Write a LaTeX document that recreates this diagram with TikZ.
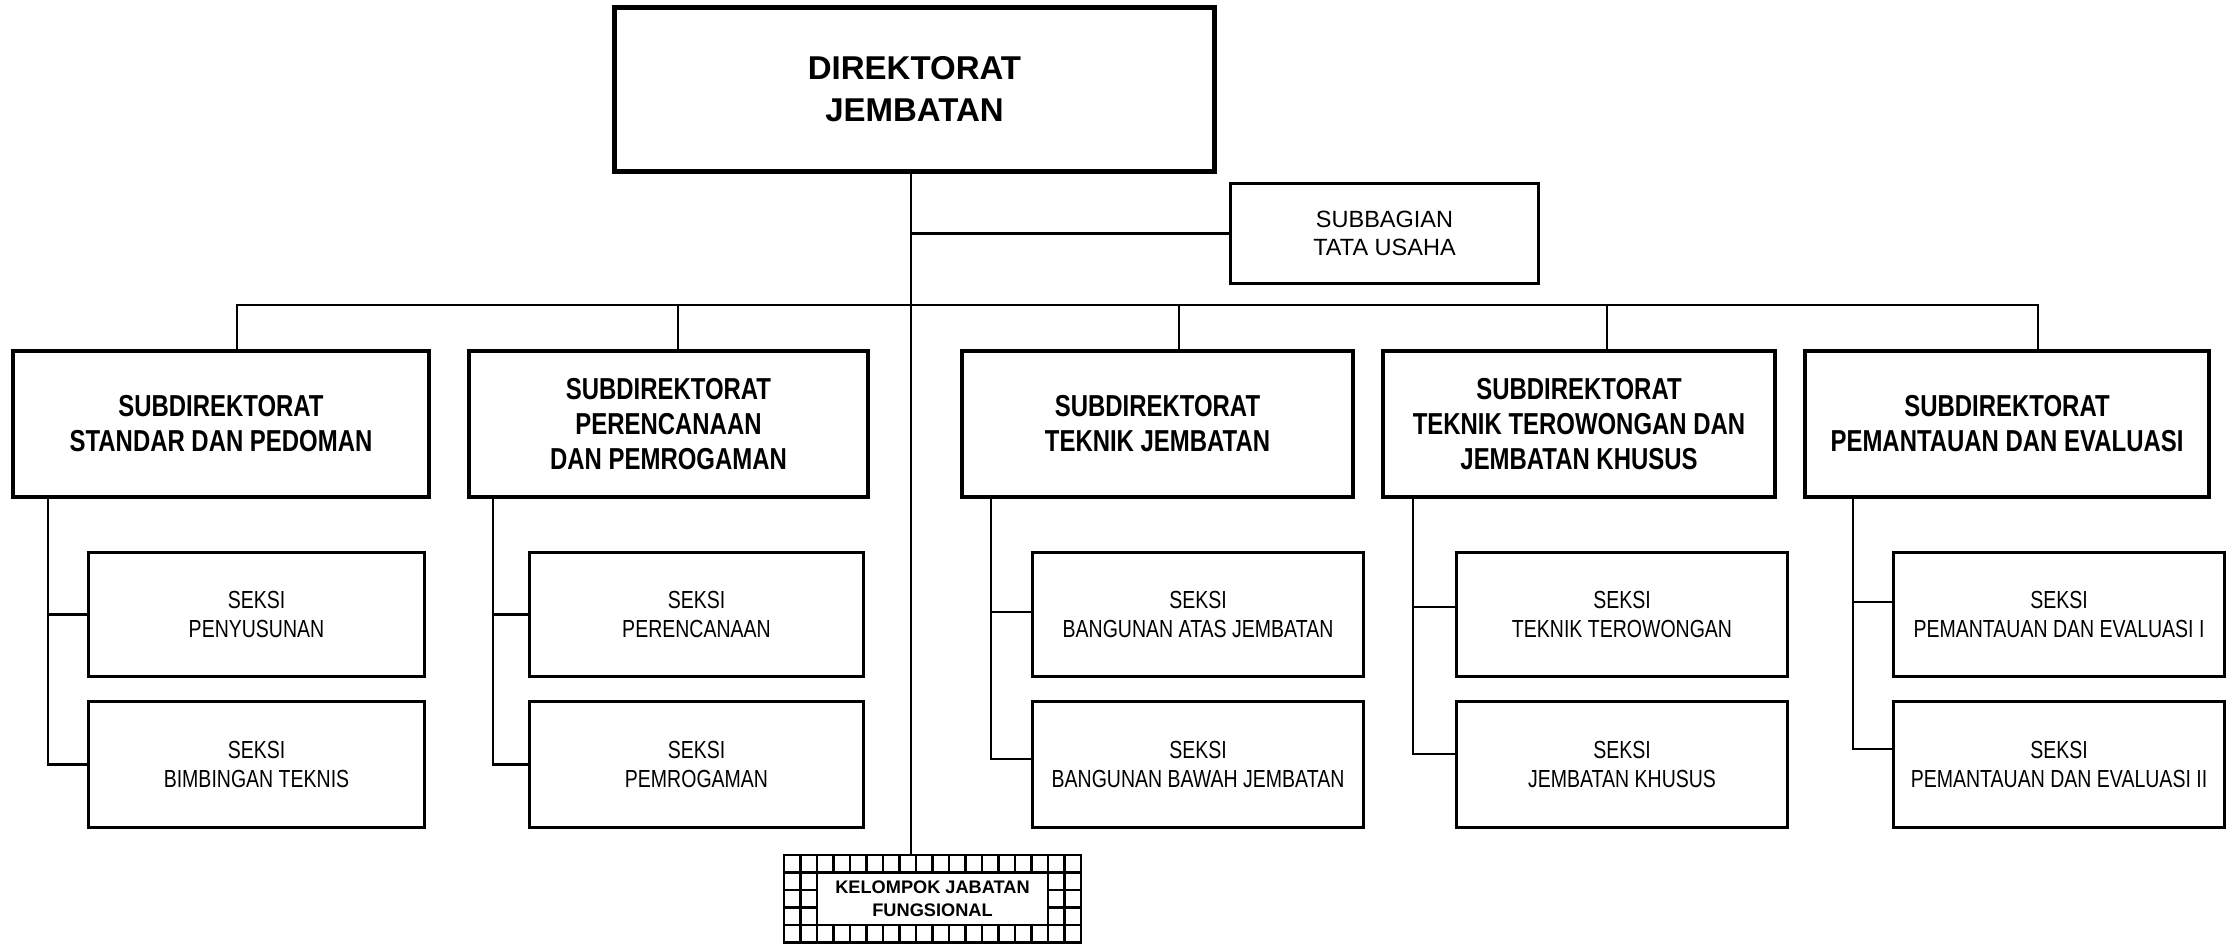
\documentclass[tikz,border=0pt]{standalone}
\usepackage{fontspec}
\setmainfont{Liberation Sans}
\newfontfamily\narrowfont[FakeStretch=0.79]{Liberation Sans}
\begin{document}
\begin{tikzpicture}[x=0.5pt,y=-0.5pt,
  box/.style={draw, inner sep=0pt, align=center},
  headbox/.style={box, line width=2.5pt, font=\bfseries\fontsize{16.5pt}{21pt}\selectfont},
  staffbox/.style={box, line width=1.5pt, font=\fontsize{11.75pt}{14pt}\selectfont},
  subdirbox/.style={box, line width=2.15pt, minimum height=73pt,
    font=\narrowfont\bfseries\fontsize{15.15pt}{17.5pt}\selectfont},
  seksibox/.style={box, line width=1.35pt,
    font=\narrowfont\fontsize{12.35pt}{14.5pt}\selectfont},
  upper/.style={seksibox, minimum height=62.15pt},
  lower/.style={seksibox, minimum height=63.15pt},
  cell/.style={line width=1.35pt},
  link/.style={line width=1.25pt}]

\useasboundingbox (0,0) rectangle (2230,944);

% top level
\node[headbox, minimum width=300pt, minimum height=82pt] (dir) at (914.5,89.5) {DIREKTORAT\\JEMBATAN};
\node[staffbox, minimum width=154pt, minimum height=50pt] (tu) at (1384.5,233.5) {SUBBAGIAN\\TATA USAHA};

% subdirectorates
\node[subdirbox, minimum width=208pt]   (sd1) at (221,424)    {SUBDIREKTORAT\\STANDAR DAN PEDOMAN};
\node[subdirbox, minimum width=199.5pt] (sd2) at (668.5,424)  {SUBDIREKTORAT\\PERENCANAAN\\DAN PEMROGAMAN};
\node[subdirbox, minimum width=195.5pt] (sd3) at (1157.5,424) {SUBDIREKTORAT\\TEKNIK JEMBATAN};
\node[subdirbox, minimum width=196pt]   (sd4) at (1579,424)   {SUBDIREKTORAT\\TEKNIK TEROWONGAN DAN\\JEMBATAN KHUSUS};
\node[subdirbox, minimum width=202pt]   (sd5) at (2007,424)   {SUBDIREKTORAT\\PEMANTAUAN DAN EVALUASI};

% sections
\node[upper, minimum width=168.15pt] (k1a) at (256.5,614.5) {SEKSI\\PENYUSUNAN};
\node[lower, minimum width=168.15pt] (k1b) at (256.5,764.5) {SEKSI\\BIMBINGAN TEKNIS};
\node[upper, minimum width=167.15pt] (k2a) at (696.5,614.5) {SEKSI\\PERENCANAAN};
\node[lower, minimum width=167.15pt] (k2b) at (696.5,764.5) {SEKSI\\PEMROGAMAN};
\node[upper, minimum width=165.65pt] (k3a) at (1198,614.5)  {SEKSI\\BANGUNAN ATAS JEMBATAN};
\node[lower, minimum width=165.65pt] (k3b) at (1198,764.5)  {SEKSI\\BANGUNAN BAWAH JEMBATAN};
\node[upper, minimum width=165.65pt] (k4a) at (1622,614.5)  {SEKSI\\TEKNIK TEROWONGAN};
\node[lower, minimum width=165.65pt] (k4b) at (1622,764.5)  {SEKSI\\JEMBATAN KHUSUS};
\node[upper, minimum width=165.65pt] (k5a) at (2059,614.5)  {SEKSI\\PEMANTAUAN DAN EVALUASI I};
\node[lower, minimum width=165.65pt] (k5b) at (2059,764.5)  {SEKSI\\PEMANTAUAN DAN EVALUASI II};

% functional group: chequered frame with a plain label panel
\node[draw, cell, inner sep=0pt, minimum width=148.5pt, minimum height=43.75pt] (kgrid) at (932.5,898.75) {};
\foreach \i in {1,...,17} \draw[cell] (784+\i*16.5,855) -- (784+\i*16.5,942.5);
\foreach \j in {1,...,4} \draw[cell] (784,855+\j*17.5) -- (1081,855+\j*17.5);
\node[draw, cell, fill=white, inner sep=0pt, align=center, minimum width=115.5pt, minimum height=26.25pt,
  font=\bfseries\fontsize{9.1pt}{11.35pt}\selectfont] (kjf) at (932.5,898.75) {KELOMPOK JABATAN\\FUNGSIONAL};

% junction points
\coordinate (spine) at (911,305);
\coordinate (d1) at (237,305);
\coordinate (d2) at (678,305);
\coordinate (d3) at (1179,305);
\coordinate (d4) at (1607,305);
\coordinate (d5) at (2038,305);
\coordinate (t1) at (48,0);
\coordinate (t2) at (493,0);
\coordinate (t3) at (991,0);
\coordinate (t4) at (1413,0);
\coordinate (t5) at (1853,0);
\coordinate (c1a) at (k1a.west);
\coordinate (c1b) at (k1b.west);
\coordinate (c2a) at (k2a.west);
\coordinate (c2b) at (k2b.west);
\coordinate (c3a) at ([yshift=1.25pt]k3a.west);
\coordinate (c3b) at ([yshift=2.75pt]k3b.west);
\coordinate (c4a) at ([yshift=3.75pt]k4a.west);
\coordinate (c4b) at ([yshift=5.25pt]k4b.west);
\coordinate (c5a) at ([yshift=6.25pt]k5a.west);
\coordinate (c5b) at ([yshift=7.75pt]k5b.west);

% main spine and staff branch
\draw[link] (spine |- dir.south) -- (spine |- kgrid.north);
\draw[link] (spine |- tu.west) -- (tu.west);

% bus to the subdirectorates
\draw[link] (d1 |- sd1.north) -- (d1) -- (d5) -- (d5 |- sd5.north);
\draw[link] (d2) -- (d2 |- sd2.north);
\draw[link] (d3) -- (d3 |- sd3.north);
\draw[link] (d4) -- (d4 |- sd4.north);

% sections under each subdirectorate
\foreach \n in {1,...,5} {
  \draw[link] (t\n |- sd\n.south) |- (c\n b);
  \draw[link] (t\n |- c\n a) -- (c\n a);
}
\end{tikzpicture}
\end{document}
